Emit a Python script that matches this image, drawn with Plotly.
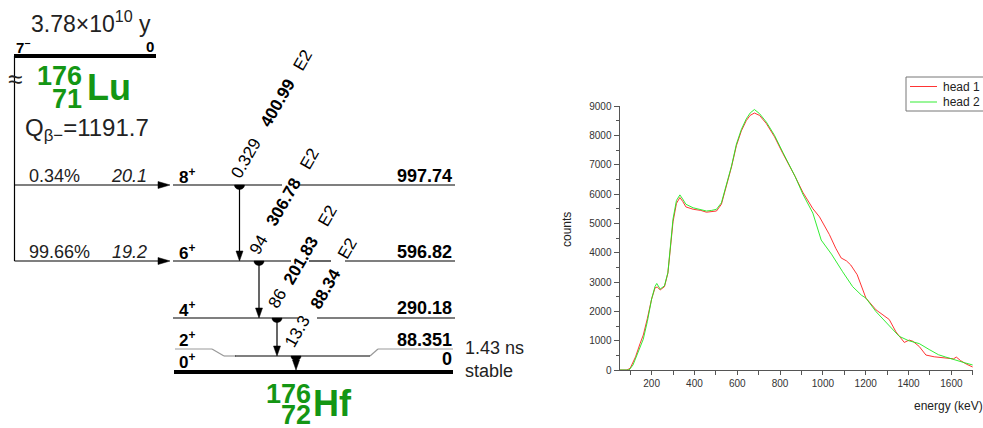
import plotly.graph_objects as go
import math

W, H = 983, 428
FONT = "Liberation Sans, Arial, sans-serif"

# ---------------- spectrum data ----------------
series_names = ["head 1", "head 2"]
series_colors = ["rgba(255,30,30,0.9)", "rgba(30,235,30,0.9)"]
energy_head1 = [50, 85, 100, 125, 146, 161, 180, 200, 216, 226, 240, 260, 276, 288, 300, 316,
                332, 345, 360, 394, 430, 456, 480, 503, 526, 549, 573, 596, 619, 642, 660, 680,
                704, 736, 774, 813, 844, 870, 906, 953, 984, 1030, 1060, 1085, 1110, 1130, 1160,
                1201, 1248, 1280, 1310, 1341, 1380, 1403, 1420, 1450, 1481, 1520, 1574, 1610,
                1623, 1643, 1670, 1700]
counts_head1 = [0, 0, 60, 450, 900, 1190, 1750, 2420, 2800, 2830, 2730, 2840, 3300, 4300, 5050, 5680,
                5880, 5750, 5560, 5480, 5440, 5380, 5400, 5420, 5650, 6230, 6920, 7650, 8150, 8500, 8680, 8760,
                8680, 8400, 7950, 7380, 6980, 6600, 6060, 5500, 5220, 4620, 4150, 3820, 3720, 3580, 3250,
                2450, 2050, 1880, 1720, 1300, 940, 1020, 980, 800, 510, 450, 400, 380,
                440, 320, 200, 100]
energy_head2 = [50, 95, 113, 130, 146, 161, 180, 200, 216, 224, 240, 260, 276, 288, 300, 316,
                332, 345, 360, 394, 430, 456, 480, 503, 526, 549, 573, 596, 619, 642, 660, 680,
                704, 736, 774, 813, 844, 870, 906, 953, 992, 1040, 1092, 1139, 1180, 1201, 1248,
                1290, 1325, 1356, 1400, 1450, 1496, 1540, 1574, 1620, 1660, 1700]
counts_head2 = [0, 0, 170, 500, 800, 1050, 1650, 2420, 2850, 2950, 2760, 2870, 3320, 4350, 5150, 5780,
                5970, 5830, 5650, 5530, 5480, 5420, 5440, 5480, 5700, 6280, 6950, 7700, 8200, 8560, 8760, 8880,
                8740, 8450, 8000, 7420, 7000, 6600, 6000, 5350, 4430, 3950, 3350, 2840, 2550, 2450, 1990,
                1650, 1400, 1150, 1000, 900, 700, 520, 440, 330, 250, 170]
x_tick_vals = list(range(100, 1800, 100))
x_tick_text = ["" if v % 200 else str(v) for v in x_tick_vals]
y_tick_vals = list(range(0, 10000, 1000))
x_title = "energy (keV)"
y_title = "counts"

# ---------------- decay scheme data ----------------
parent_halflife = "3.78×10<sup>10</sup> y"
parent_spin = "7<sup>−</sup>"
parent_energy = "0"
parent_mass, parent_z, parent_sym = "176", "71", "Lu"
q_text = "Q<sub>β−</sub>=1191.7"
daughter_mass, daughter_z, daughter_sym = "176", "72", "Hf"
level_spins = ["8<sup>+</sup>", "6<sup>+</sup>", "4<sup>+</sup>", "2<sup>+</sup>", "0<sup>+</sup>"]
level_energies = ["997.74", "596.82", "290.18", "88.351", "0"]
level_halflife = ["1.43 ns", "stable"]
beta_branches = ["0.34%", "99.66%"]
beta_logft = ["20.1", "19.2"]
gamma_energies = ["400.99", "306.78", "201.83", "88.34"]
gamma_intensities = ["0.329", "94", "86", "13.3"]
gamma_mult = ["E2", "E2", "E2", "E2"]

GREEN = "rgb(20,150,20)"

fig = go.Figure()
fig.add_trace(go.Scatter(x=energy_head1, y=counts_head1, mode="lines", name=series_names[0],
                         line=dict(color=series_colors[0], width=1), xaxis="x", yaxis="y"))
fig.add_trace(go.Scatter(x=energy_head2, y=counts_head2, mode="lines", name=series_names[1],
                         line=dict(color=series_colors[1], width=1), xaxis="x", yaxis="y"))
# carrier trace for the pixel-space diagram axes
fig.add_trace(go.Scatter(x=[None], y=[None], xaxis="x2", yaxis="y2", showlegend=False, hoverinfo="skip"))

shapes = []
annotations = []


def line(x0, y0, x1, y1, width=1.2, color="black"):
    shapes.append(dict(type="line", xref="x2", yref="y2", x0=x0, y0=y0, x1=x1, y1=y1,
                       line=dict(color=color, width=width)))


def poly(pts, color="black"):
    p = "M " + " L ".join(f"{x:.2f},{y:.2f}" for x, y in pts) + " Z"
    shapes.append(dict(type="path", xref="x2", yref="y2", path=p, fillcolor=color,
                       line=dict(color=color, width=0.5)))


def txt(x, y, text, size, color="black", xa="center", ya="middle", angle=0, bold=False, italic=False):
    if bold:
        text = f"<b>{text}</b>"
    if italic:
        text = f"<i>{text}</i>"
    annotations.append(dict(xref="x2", yref="y2", x=x, y=y, text=text, showarrow=False,
                            xanchor=xa, yanchor=ya, textangle=angle, borderpad=0,
                            font=dict(family=FONT, size=size, color=color)))


# parent level
line(14, 56, 156, 56, width=4)
txt(15, 46, parent_spin, 15, xa="left", bold=True)
txt(155, 46, parent_energy, 15, xa="right", bold=True)
txt(91, 22, parent_halflife, 23, color="#222")
txt(14.5, 79, "≈", 26, color="#222")
txt(83, 76, parent_mass, 27, color=GREEN, xa="right", bold=True)
txt(83, 99, parent_z, 27, color=GREEN, xa="right", bold=True)
txt(86, 87, parent_sym, 36, color=GREEN, xa="left", bold=True)
txt(24, 129, q_text, 24, color="#222", xa="left")

# beta feeding line
line(14.5, 56, 14.5, 261)
beta_y = [185, 261]
for by, br, lf in zip(beta_y, beta_branches, beta_logft):
    line(14.5, by, 160, by)
    poly([(170, by), (158, by - 3.5), (158, by + 3.5)])
    txt(28, by - 9, br, 18, color="#222", xa="left")
    txt(148, by - 9, lf, 18, color="#222", xa="right", italic=True)

# daughter levels
level_y = [185, 261, 318, 349, 372]
seg = {0: [(173, 282), (298, 455)], 1: [(173, 291), (309, 331), (345, 455)], 2: [(173, 298), (317, 455)]}
for i in range(3):
    for a, b in seg[i]:
        line(a, level_y[i], b, level_y[i])
# 2+ level with lowered middle part
for (a, ya_), (b, yb) in [((175, 349), (212, 349)), ((212, 349), (224, 356)), ((224, 356), (236, 356)),
                          ((370, 356), (378, 349)), ((378, 349), (453, 349))]:
    line(a, ya_, b, yb, color="#999")
line(235, 356, 370, 356)
line(174, 372, 453, 372, width=4)

spin_y = [176, 252, 309, 339, 361]
en_y = [176, 252, 308, 340, 359]
for i in range(5):
    txt(178, spin_y[i], level_spins[i], 17, xa="left", bold=True)
    txt(453, en_y[i], level_energies[i], 18, xa="right", bold=True)
txt(464, 348, level_halflife[0], 18, color="#222", xa="left")
txt(464, 371, level_halflife[1], 18, color="#222", xa="left")

txt(312, 394, daughter_mass, 27, color=GREEN, xa="right", bold=True)
txt(312, 415, daughter_z, 27, color=GREEN, xa="right", bold=True)
txt(312, 403, daughter_sym, 36, color=GREEN, xa="left", bold=True)

# gamma transitions
g_x = [239.5, 259, 277, 296]
g_top = [185, 261, 318, 356]
g_bot = [261, 318, 356, 370]
lab_int = [(246, 158.5), (258, 245), (277.5, 298.5), (297.5, 331.5)]
lab_en = [(277.5, 103.5), (283.5, 202.5), (301, 260.5), (325, 289)]
lab_mult = [(302.5, 60), (309, 159), (327, 216), (347.5, 248.5)]
for k in range(4):
    gx = g_x[k]
    line(gx, g_top[k], gx, g_bot[k] - 8)
    poly([(gx, g_bot[k]), (gx - 3.5, g_bot[k] - 10), (gx + 3.5, g_bot[k] - 10)])
    half = [(gx + 5 * math.cos(math.pi * j / 10), g_top[k] + 4.5 * math.sin(math.pi * j / 10)) for j in range(11)]
    poly(half)
    txt(*lab_int[k], gamma_intensities[k], 17, angle=-60)
    txt(*lab_en[k], gamma_energies[k], 17, angle=-60, bold=True)
    txt(*lab_mult[k], gamma_mult[k], 17, angle=-60)

# axis titles of spectrum
txt(567, 230, y_title, 12, color="#222", angle=-90)
txt(913, 406, x_title, 12, color="#222", xa="left")

# legend box of spectrum
shapes.append(dict(type="rect", xref="x2", yref="y2", x0=906, y0=77, x1=995, y1=111,
                   line=dict(color="#777", width=1), fillcolor="white"))
for k, (ly) in enumerate([86.5, 102]):
    line(910, ly, 937, ly, width=1, color=series_colors[k])
    txt(942, ly, series_names[k], 12, color="#222", xa="left")

axis_font = dict(family=FONT, size=10, color="#333")
fig.update_layout(
    width=W, height=H,
    margin=dict(l=0, r=0, t=0, b=0, pad=0, autoexpand=False),
    paper_bgcolor="white", plot_bgcolor="rgba(0,0,0,0)",
    showlegend=False,
    xaxis=dict(domain=[619.5 / W, 972.8 / W], range=[50, 1700], anchor="y",
               tickmode="array", tickvals=x_tick_vals, ticktext=x_tick_text,
               ticks="outside", ticklen=4, tickcolor="#555", showline=True, linecolor="#555",
               showgrid=False, zeroline=False, tickfont=axis_font, automargin=False, fixedrange=True),
    yaxis=dict(domain=[1 - 370 / H, 1 - 106 / H], range=[0, 9000], anchor="x",
               tickmode="array", tickvals=y_tick_vals,
               ticks="outside", ticklen=5, tickcolor="#555", showline=True, linecolor="#555",
               minor=dict(dtick=500, ticks="outside", ticklen=3, tickcolor="#555"),
               showgrid=False, zeroline=False, tickfont=axis_font, automargin=False, fixedrange=True),
    xaxis2=dict(domain=[0, 1], range=[0, W], anchor="y2", visible=False, fixedrange=True),
    yaxis2=dict(domain=[0, 1], range=[H, 0], anchor="x2", visible=False, fixedrange=True),
    shapes=shapes, annotations=annotations,
)

fig.write_html("out.html", config={"displayModeBar": False},
               post_script="document.body.style.margin='0';document.body.style.overflow='hidden';")
